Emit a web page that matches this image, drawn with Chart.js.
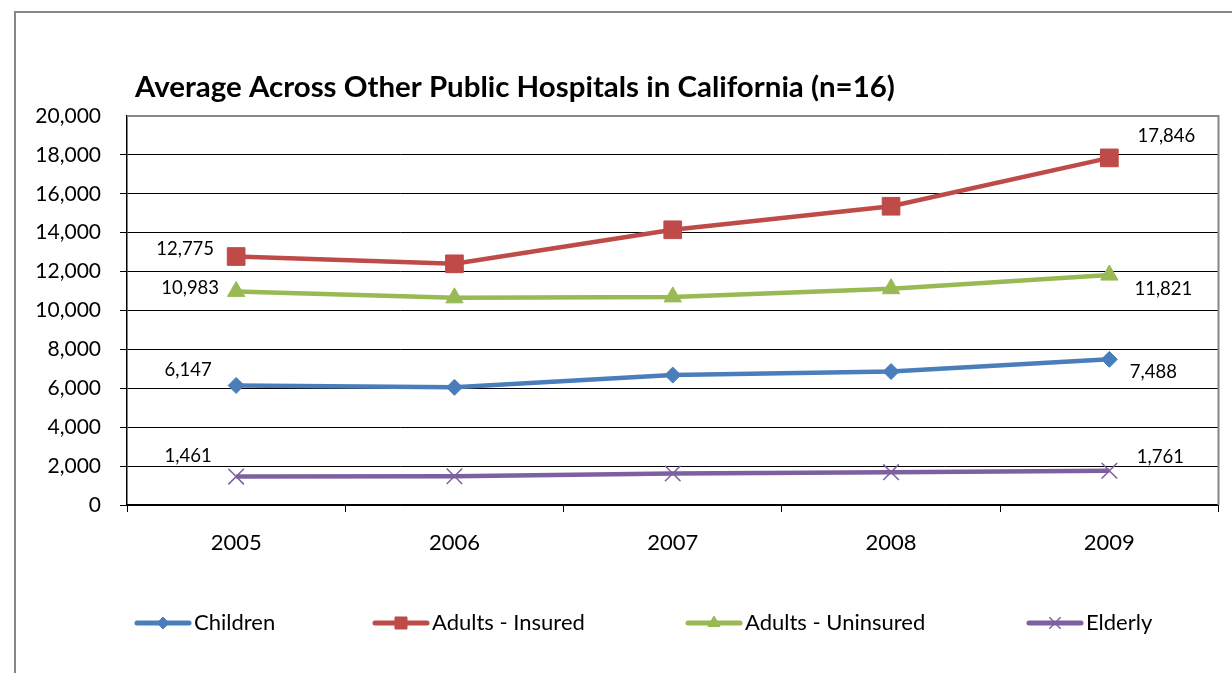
<!DOCTYPE html>
<html>
<head>
<meta charset="utf-8">
<script src="https://cdn.jsdelivr.net/npm/chart.js@4/dist/chart.umd.min.js"></script>
<style>
  html, body { margin: 0; padding: 0; background: #ffffff; }
  #wrap { width: 1232px; height: 673px; position: relative; }
</style>
</head>
<body>
<div id="wrap"><canvas id="chart" width="1232" height="673"></canvas></div>
<script>
// Visits per year, averaged across 16 other public hospitals
const years = ['2005', '2006', '2007', '2008', '2009'];
const children = [6147, 6050, 6680, 6860, 7488];
const adultsInsured = [12775, 12400, 14150, 15360, 17846];
const adultsUninsured = [10983, 10650, 10700, 11120, 11821];
const elderly = [1461, 1480, 1620, 1690, 1761];
const seriesNames = ['Children', 'Adults - Insured', 'Adults - Uninsured', 'Elderly'];
const yTicks = [0, 2000, 4000, 6000, 8000, 10000, 12000, 14000, 16000, 18000, 20000];
const chartTitle = 'Average Across Other Public Hospitals in California (n=16)';

const FONT = 'Lato, "Open Sans", sans-serif';
const colors = ['#4a7ebb', '#be4b48', '#98b954', '#7d60a0'];
const pointStyles = ['rectRot', 'rect', 'triangle', 'crossRot'];
const pointRadii = [8, 12.5, 10, 11];
const legendMarkerRadii = [6, 8.5, 7, 8];

// label placement relative to the first / last point of each line
const labelOffsets = [
  { first: [-48, -15], last: [44, 13] },
  { first: [-51, -7], last: [57, -22] },
  { first: [-46, -3], last: [54, 14] },
  { first: [-48, -21], last: [51, -14] }
];

const fmt = v => v.toLocaleString('en-US');

const seriesData = [children, adultsInsured, adultsUninsured, elderly];
const datasets = seriesData.map((d, i) => ({
  label: seriesNames[i],
  data: d,
  borderColor: colors[i],
  backgroundColor: colors[i],
  borderWidth: 4.5,
  tension: 0,
  pointStyle: pointStyles[i],
  pointRadius: pointRadii[i],
  pointHoverRadius: pointRadii[i],
  pointBackgroundColor: colors[i],
  pointBorderColor: colors[i],
  pointBorderWidth: i === 3 ? 1.5 : 1
}));

function drawMarker(ctx, style, r, bw, color, x, y) {
  ctx.save();
  ctx.fillStyle = color;
  ctx.strokeStyle = color;
  ctx.lineWidth = bw;
  Chart.helpers.drawPoint(ctx, { pointStyle: style, radius: r, borderWidth: bw, rotation: 0 }, x, y);
  ctx.restore();
}

const framePlugin = {
  id: 'frame',
  beforeDraw(chart) {
    const ctx = chart.ctx;
    ctx.save();
    ctx.fillStyle = '#ffffff';
    ctx.fillRect(0, 0, chart.width, chart.height);
    ctx.strokeStyle = '#878787';
    ctx.lineWidth = 2;
    ctx.beginPath();
    ctx.moveTo(15, 673);
    ctx.lineTo(15, 12);
    ctx.lineTo(1232, 12);
    ctx.stroke();
    ctx.restore();
  },
  afterDatasetsDraw(chart) {
    const ctx = chart.ctx;
    ctx.save();
    ctx.font = '18.5px ' + FONT;
    ctx.fillStyle = '#000000';
    ctx.textAlign = 'center';
    ctx.textBaseline = 'middle';
    chart.data.datasets.forEach((ds, i) => {
      const meta = chart.getDatasetMeta(i);
      const n = ds.data.length;
      const p0 = meta.data[0], pn = meta.data[n - 1];
      const o = labelOffsets[i];
      ctx.fillText(fmt(ds.data[0]), p0.x + o.first[0], p0.y + o.first[1]);
      ctx.fillText(fmt(ds.data[n - 1]), pn.x + o.last[0], pn.y + o.last[1]);
    });
    ctx.restore();
  },
  afterDraw(chart) {
    const ctx = chart.ctx;
    const a = chart.chartArea;
    ctx.save();
    // plot area border (top and right)
    ctx.strokeStyle = '#878787';
    ctx.lineWidth = 2;
    ctx.beginPath();
    ctx.moveTo(a.left, a.top);
    ctx.lineTo(a.right, a.top);
    ctx.lineTo(a.right, a.bottom);
    ctx.stroke();

    // title
    ctx.fillStyle = '#000000';
    ctx.textBaseline = 'alphabetic';
    ctx.textAlign = 'left';
    ctx.font = 'bold 100px ' + FONT;
    const w100 = ctx.measureText(chartTitle).width;
    const size = 100 * 760 / w100;
    ctx.font = 'bold ' + size.toFixed(2) + 'px ' + FONT;
    ctx.fillText(chartTitle, 135, 97);

    // legend
    const starts = [135, 373, 686, 1027];
    const ly = 623;
    ctx.font = '22px ' + FONT;
    ctx.textBaseline = 'middle';
    starts.forEach((sx, i) => {
      ctx.strokeStyle = colors[i];
      ctx.lineWidth = 5;
      ctx.lineCap = 'round';
      ctx.beginPath();
      ctx.moveTo(sx + 2, ly);
      ctx.lineTo(sx + 54, ly);
      ctx.stroke();
      ctx.lineCap = 'butt';
      drawMarker(ctx, pointStyles[i], legendMarkerRadii[i], i === 3 ? 1.5 : 1, colors[i], sx + 28, ly);
      ctx.fillStyle = '#000000';
      ctx.fillText(seriesNames[i], sx + 59, ly);
    });
    ctx.restore();
  }
};

new Chart(document.getElementById('chart'), {
  type: 'line',
  data: { labels: years, datasets },
  options: {
    responsive: false,
    animation: false,
    devicePixelRatio: 1,
    layout: { padding: { top: 116, right: 10, left: 0, bottom: 0 } },
    plugins: {
      legend: { display: false },
      title: { display: false },
      tooltip: { enabled: false }
    },
    scales: {
      x: {
        type: 'category',
        offset: true,
        afterFit(scale) { scale.height = 168; },
        grid: {
          offset: true,
          drawOnChartArea: false,
          drawTicks: true,
          tickLength: 7,
          color: '#000000',
          lineWidth: 1
        },
        border: { display: true, color: '#000000', width: 1.5 },
        ticks: {
          color: '#000000',
          font: { family: FONT, size: 22 },
          padding: 18,
          maxRotation: 0
        }
      },
      y: {
        min: 0,
        max: 20000,
        afterFit(scale) { scale.width = 127; },
        afterBuildTicks(scale) { scale.ticks = yTicks.map(v => ({ value: v })); },
        grid: {
          color: ctx => (ctx.tick && ctx.tick.value === 20000 ? 'rgba(0,0,0,0)' : '#000000'),
          lineWidth: 1,
          tickLength: 7,
          drawTicks: true
        },
        border: { display: true, color: '#000000', width: 1.5 },
        ticks: {
          color: '#000000',
          font: { family: FONT, size: 21 },
          padding: 19,
          callback: v => fmt(v)
        }
      }
    }
  },
  plugins: [framePlugin]
});
</script>
</body>
</html>
